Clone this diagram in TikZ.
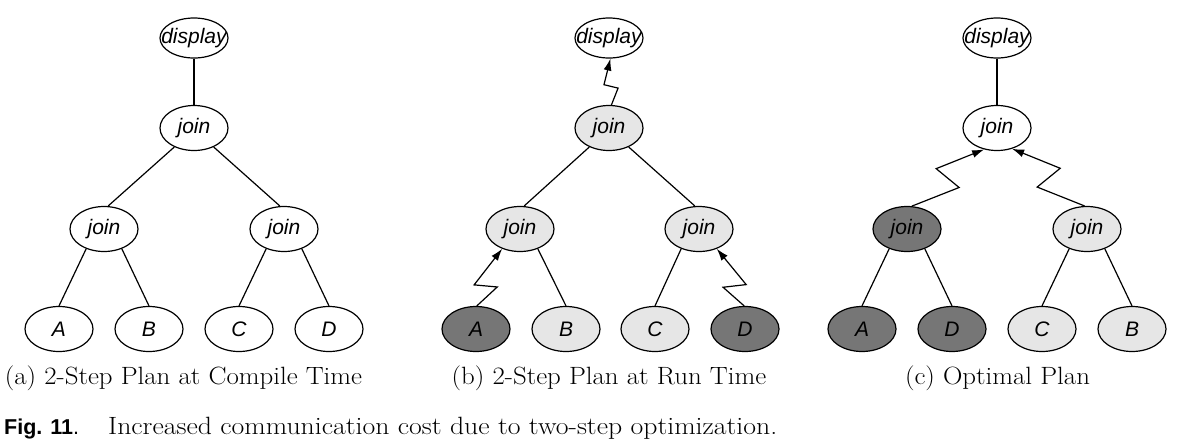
\documentclass[tikz,border=0pt]{standalone}
\usepackage{fontspec}
\usepackage{graphicx}
\newfontfamily\lsans{Liberation Sans}
\usetikzlibrary{calc,arrows.meta,shapes.geometric}
\definecolor{darkfill}{RGB}{118,118,118}
\definecolor{lightfill}{RGB}{230,230,230}
\tikzset{
  op/.style={ellipse,draw,line width=1.2pt,inner sep=0pt,minimum width=68pt,minimum height=45pt,
    font=\lsans\itshape\fontsize{21}{21}\selectfont},
  disp/.style={op,minimum height=40pt},
  dk/.style={fill=darkfill},
  lt/.style={fill=lightfill},
  conn/.style={line width=1.2pt},
  zarrow/.style={line width=1.2pt,-{Latex[length=12pt,width=8pt]}},
  zig/.style n args={3}{to path={-- ($(\tikztostart)!#1!(\tikztotarget)!#3!-90:(\tikztotarget)$)
     -- ($(\tikztostart)!#2!(\tikztotarget)!#3!90:(\tikztotarget)$) -- (\tikztotarget)}},
  subcap/.style={anchor=base,inner sep=0pt,font=\fontsize{25}{25}\selectfont},
  figcap/.style={anchor=base west,inner sep=0pt,font=\fontsize{25}{25}\selectfont},
}
\newcommand{\lbl}[1]{\makebox[0pt]{#1}}
\newcommand{\capx}[1]{\scalebox{1.075}[1]{#1}}
\begin{document}
\begin{tikzpicture}[x=1pt,y=-1pt]
\useasboundingbox (0,0) rectangle (1189,445);
% ---------- (a)
\node[disp] (ad) at (194,38) {\lbl{display}};
\node[op] (at) at (194,128) {\lbl{join}};
\node[op] (al) at (104,229) {\lbl{join}};
\node[op] (ar) at (284,229) {\lbl{join}};
\node[op] (aA) at (59,329) {\lbl{A}};
\node[op] (aB) at (149,329) {\lbl{B}};
\node[op] (aC) at (239,329) {\lbl{C}};
\node[op] (aD) at (329,329) {\lbl{D}};
\draw[conn] (ad) -- (at);
\draw[conn] (at.-136) -- (al.80);
\draw[conn] (at.-44) -- (ar.100);
\draw[conn] (al.-132) -- (aA.north);
\draw[conn] (al.-48) -- (aB.north);
\draw[conn] (ar.-132) -- (aC.north);
\draw[conn] (ar.-48) -- (aD.north);
% ---------- (b)
\node[disp] (bd) at (609,38) {\lbl{display}};
\node[op,lt] (bt) at (609,128) {\lbl{join}};
\node[op,lt] (bl) at (520,229) {\lbl{join}};
\node[op,lt] (br) at (699,229) {\lbl{join}};
\node[op,dk] (bA) at (476,329) {\lbl{A}};
\node[op,lt] (bB) at (566,329) {\lbl{B}};
\node[op,lt] (bC) at (655,329) {\lbl{C}};
\node[op,dk] (bD) at (745,329) {\lbl{D}};
\draw[zarrow] (bt.84) to[zig={0.36}{0.44}{7pt}] (bd.-86);
\draw[conn] (bt.-136) -- (bl.80);
\draw[conn] (bt.-44) -- (br.100);
\draw[zarrow] (bA.88) to[zig={0.41}{0.29}{11pt}] (bl.-132);
\draw[conn] (bl.-48) -- (bB.north);
\draw[conn] (br.-132) -- (bC.north);
\draw[zarrow] (bD.92) to[zig={0.41}{0.29}{-11pt}] (br.-48);
% ---------- (c)
\node[disp] (cd) at (997,38) {\lbl{display}};
\node[op] (ct) at (997,128) {\lbl{join}};
\node[op,dk] (cl) at (907,229) {\lbl{join}};
\node[op,lt] (cr) at (1087,229) {\lbl{join}};
\node[op,dk] (cA) at (862,329) {\lbl{A}};
\node[op,dk] (cD) at (952,329) {\lbl{D}};
\node[op,lt] (cC) at (1042,329) {\lbl{C}};
\node[op,lt] (cB) at (1132,329) {\lbl{B}};
\draw[conn] (cd) -- (ct);
\draw[zarrow] (cl.78) to[zig={0.53}{0.46}{14.5pt}] (ct.-121);
\draw[zarrow] (cr.96) to[zig={0.53}{0.46}{-14.5pt}] (ct.-54);
\draw[conn] (cl.-132) -- (cA.north);
\draw[conn] (cl.-48) -- (cD.north);
\draw[conn] (cr.-132) -- (cC.north);
\draw[conn] (cr.-48) -- (cB.north);
% ---------- captions
\node[subcap] (capa) at (183.5,384) {\capx{(a) 2-Step Plan at Compile Time}};
\node[subcap] (capb) at (609,384) {\capx{(b) 2-Step Plan at Run Time}};
\node[subcap] (capc) at (997.5,384) {\capx{(c) Optimal Plan}};
\node[figcap] (fig) at (4,434)
  {\makebox[104pt][l]{{\lsans\bfseries\fontsize{21.5}{24}\selectfont Fig. 11}{\lsans\fontsize{21.5}{24}\selectfont .}}\scalebox{1.11}[1]{Increased communication cost due to two-step optimization.}};
\end{tikzpicture}
\end{document}
